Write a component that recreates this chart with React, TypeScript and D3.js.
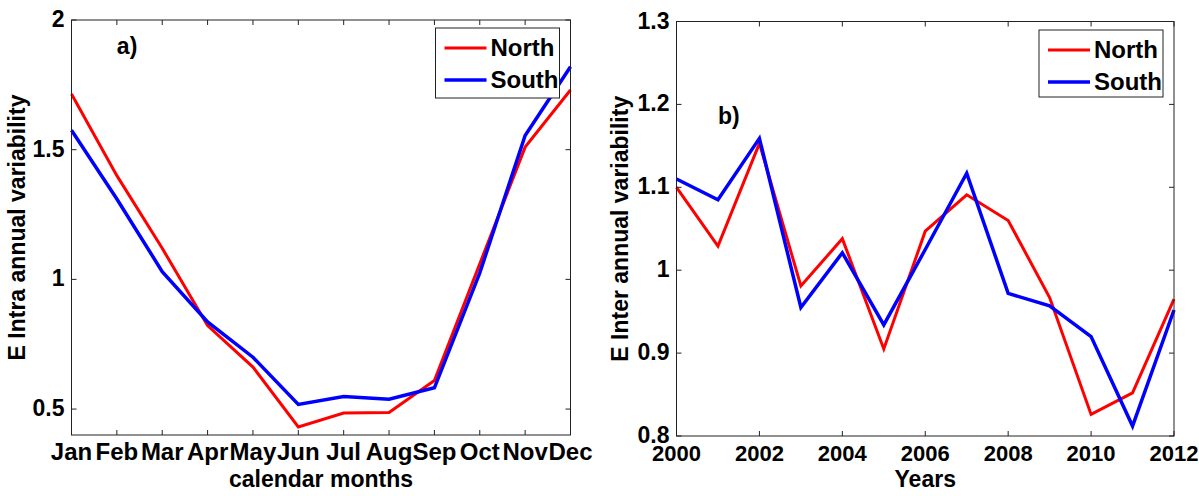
import React from 'react';
import * as d3 from 'd3';

// panel a) monthly values
const months = ['Jan', 'Feb', 'Mar', 'Apr', 'May', 'Jun', 'Jul', 'Aug', 'Sep', 'Oct', 'Nov', 'Dec'];
const northIntra = [1.715, 1.4, 1.12, 0.822, 0.662, 0.431, 0.485, 0.487, 0.61, 1.06, 1.51, 1.73];
const southIntra = [1.575, 1.31, 1.03, 0.836, 0.7, 0.518, 0.548, 0.538, 0.582, 1.025, 1.555, 1.82];
const intraTicks = [0.5, 1, 1.5, 2];

// panel b) yearly values
const years = [2000, 2001, 2002, 2003, 2004, 2005, 2006, 2007, 2008, 2009, 2010, 2011, 2012];
const northInter = [1.1, 1.029, 1.153, 0.981, 1.038, 0.905, 1.047, 1.091, 1.06, 0.967, 0.826, 0.852, 0.965];
const southInter = [1.11, 1.085, 1.159, 0.955, 1.021, 0.934, 1.025, 1.117, 0.972, 0.957, 0.92, 0.812, 0.952];
const interTicks = [0.8, 0.9, 1, 1.1, 1.2, 1.3];
const yearTicks = [2000, 2002, 2004, 2006, 2008, 2010, 2012];

const seriesNames = ['North', 'South'];
const seriesColors = ['#ff0000', '#0000ff'];
const seriesWidths = [3, 3.5];

const FONT = "'Liberation Sans', Arial, Helvetica, sans-serif";
const FS = 23;
const TICK = 5;

type PanelProps = {
  left: number; right: number; top: number; bottom: number;
  xDomain: [number, number]; yDomain: [number, number];
  xs: number[]; xTicks: number[]; xLabel: (v: number) => string; xFs: number;
  yTicks: number[];
  series: number[][];
  xTitle: string; yTitle: string; yTitleX: number;
  tag: string; tagAt: [number, number];
  legend: { x: number; y: number; w: number; h: number };
};

function Panel(p: PanelProps) {
  const x = d3.scaleLinear().domain(p.xDomain).range([p.left, p.right]);
  const y = d3.scaleLinear().domain(p.yDomain).range([p.bottom, p.top]);
  const line = d3.line<number>().x((_, i) => x(p.xs[i])).y((d) => y(d));
  const fmt = d3.format('~g');
  const midY = (p.top + p.bottom) / 2;

  return (
    <g fontFamily={FONT} fontWeight="bold" fontSize={FS} fill="#000">
      {p.series.map((s, k) => (
        <path key={k} d={line(s) || ''} fill="none" stroke={seriesColors[k]}
          strokeWidth={seriesWidths[k]} strokeLinejoin="miter" />
      ))}
      <rect x={p.left} y={p.top} width={p.right - p.left} height={p.bottom - p.top}
        fill="none" stroke="#222" strokeWidth={1} />
      {p.xTicks.map((v) => (
        <g key={'x' + v}>
          <line x1={x(v)} x2={x(v)} y1={p.bottom} y2={p.bottom - TICK} stroke="#222" />
          <line x1={x(v)} x2={x(v)} y1={p.top} y2={p.top + TICK} stroke="#222" />
          <text x={x(v)} y={p.bottom + 25} textAnchor="middle" fontSize={p.xFs}>{p.xLabel(v)}</text>
        </g>
      ))}
      {p.yTicks.map((v) => (
        <g key={'y' + v}>
          <line x1={p.left} x2={p.left + TICK} y1={y(v)} y2={y(v)} stroke="#222" />
          <line x1={p.right} x2={p.right - TICK} y1={y(v)} y2={y(v)} stroke="#222" />
          <text x={p.left - 7} y={y(v) + 7} textAnchor="end">{fmt(v)}</text>
        </g>
      ))}
      <text x={(p.left + p.right) / 2} y={487} textAnchor="middle">{p.xTitle}</text>
      <text transform={`translate(${p.yTitleX},${midY}) rotate(-90)`} textAnchor="middle">{p.yTitle}</text>
      <text x={x(p.tagAt[0])} y={y(p.tagAt[1])}>{p.tag}</text>
      <g>
        <rect x={p.legend.x} y={p.legend.y} width={p.legend.w} height={p.legend.h}
          fill="#fff" stroke="#222" strokeWidth={1} />
        {seriesNames.map((name, k) => {
          const ly = p.legend.y + 20 + k * 32;
          return (
            <g key={name}>
              <line x1={p.legend.x + 9} x2={p.legend.x + 51} y1={ly} y2={ly}
                stroke={seriesColors[k]} strokeWidth={seriesWidths[k]} />
              <text x={p.legend.x + 55} y={ly + 8} fontSize={24}>{name}</text>
            </g>
          );
        })}
      </g>
    </g>
  );
}

export default function App() {
  const monthIdx = months.map((_, i) => i);
  return (
    <svg width={1199} height={496} style={{ position: 'absolute', left: 0, top: 0, background: '#fff' }}>
      <rect width={1199} height={496} fill="#fff" />
      <Panel left={71.5} right={570.5} top={20} bottom={435}
        xDomain={[0, 11]} yDomain={[0.4, 2]} xs={monthIdx} xTicks={monthIdx}
        xLabel={(v) => months[v]} xFs={24} yTicks={intraTicks}
        series={[northIntra, southIntra]}
        xTitle="calendar months" yTitle="E Intra annual variability" yTitleX={25}
        tag="a)" tagAt={[1, 1.87]}
        legend={{ x: 435.5, y: 28, w: 124, h: 70 }} />
      <Panel left={676.5} right={1174} top={21.5} bottom={436}
        xDomain={[2000, 2012]} yDomain={[0.8, 1.3]} xs={years} xTicks={yearTicks}
        xLabel={(v) => String(v)} xFs={22} yTicks={interTicks}
        series={[northInter, southInter]}
        xTitle="Years" yTitle="E Inter annual variability" yTitleX={628}
        tag="b)" tagAt={[2001, 1.176]}
        legend={{ x: 1039, y: 30, w: 124, h: 67 }} />
    </svg>
  );
}
